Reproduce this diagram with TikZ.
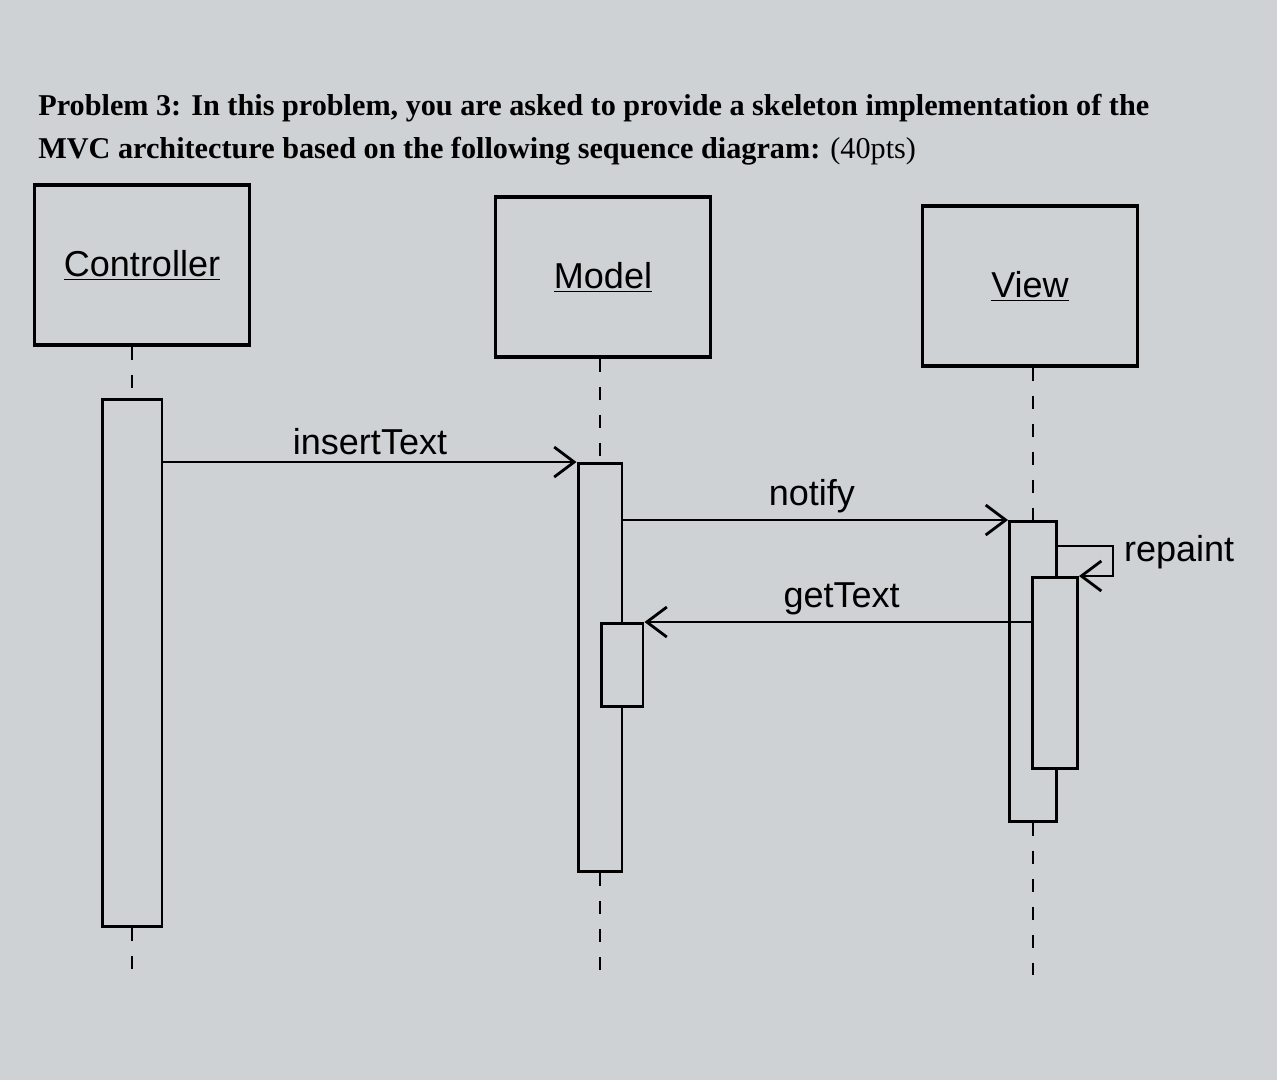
\documentclass[tikz,border=0pt]{standalone}
\usepackage{fontspec}
\setmainfont{Liberation Serif}
\setsansfont{Liberation Sans}
\usetikzlibrary{arrows.meta,positioning,calc}
\definecolor{screenbg}{RGB}{206,210,212}
\tikzset{
  objbox/.style={draw, line width=1.8pt, minimum width=4.3cm, minimum height=3.2cm,
    font=\sffamily\fontsize{20.5}{24}\selectfont},
  actbar/.style={draw, line width=1.7pt, fill=screenbg, anchor=north, inner sep=0pt},
  lifeline/.style={line width=1.6pt, dash pattern=on 0.26cm off 0.3cm},
  msg/.style={-{Straight Barb[length=4mm,width=6mm]}, line width=1.6pt},
  msglabel/.style={font=\sffamily\fontsize{20.5}{24}\selectfont, inner sep=1pt},
  titleline/.style={font=\bfseries\fontsize{17.2}{20}\selectfont, inner sep=0pt, anchor=base west}
}

\begin{document}
\begin{tikzpicture}[x=0.02cm, y=-0.02cm]
    \fill[screenbg] (0,0) rectangle (1277,1080);
    \useasboundingbox (0,0) rectangle (1277,1080);
    % title
    \node[titleline] (title1) at (38,115) {Problem 3: In this problem, you are asked to provide a skeleton implementation of the};
    \node[titleline] (title2) at (38,158) {MVC architecture based on the following sequence diagram: {\mdseries(40pts)}};
    % objects
    \node[objbox] (ctrl) at (142,265) {\underline{Controller}};
    \node[objbox] (model) at (603,277) {\underline{Model}};
    \node[objbox] (view) at (1030,286) {\underline{View}};
    % activations
    \node[actbar, minimum width=1.2cm, minimum height=10.54cm] (ctrlAct) at (132,398) {};
    \node[actbar, minimum width=0.88cm, minimum height=8.16cm] (modelAct) at (600,462) {};
    \node[actbar, minimum width=0.84cm, minimum height=1.66cm] (modelSub) at (622,622) {};
    \node[actbar, minimum width=0.94cm, minimum height=6cm] (viewAct) at (1033,520) {};
    \node[actbar, minimum width=0.9cm, minimum height=3.82cm] (viewSub) at (1055,576) {};
    % lifelines
    \coordinate (lineEnd) at (0,975);
    \foreach \o/\a in {ctrl/ctrlAct,model/modelAct,view/viewAct} {
      \draw[lifeline] (\o.south -| \a.north) -- (\a.north);
      \draw[lifeline] (\a.south) -- (\a.south |- lineEnd);
    }
    % messages
    \draw[msg] (ctrlAct.east |- modelAct.north) -- node[msglabel, above=2pt] (lblInsert) {insertText} (modelAct.north west);
    \draw[msg] (modelAct.east |- viewAct.north) -- node[msglabel, above=2pt, pos=0.49] (lblNotify) {notify} (viewAct.north west);
    \coordinate (rpTurn) at (1113,546);
    \draw[msg] (viewAct.east |- rpTurn) -- (rpTurn) |- (viewSub.north east);
    \node[msglabel, anchor=west] (lblRepaint) at (1122,552) {repaint};
    \draw[msg] (viewSub.west |- modelSub.north) -- node[msglabel, above=2pt, pos=0.49] (lblGet) {getText} (modelSub.north east);
  \end{tikzpicture}
\end{document}
